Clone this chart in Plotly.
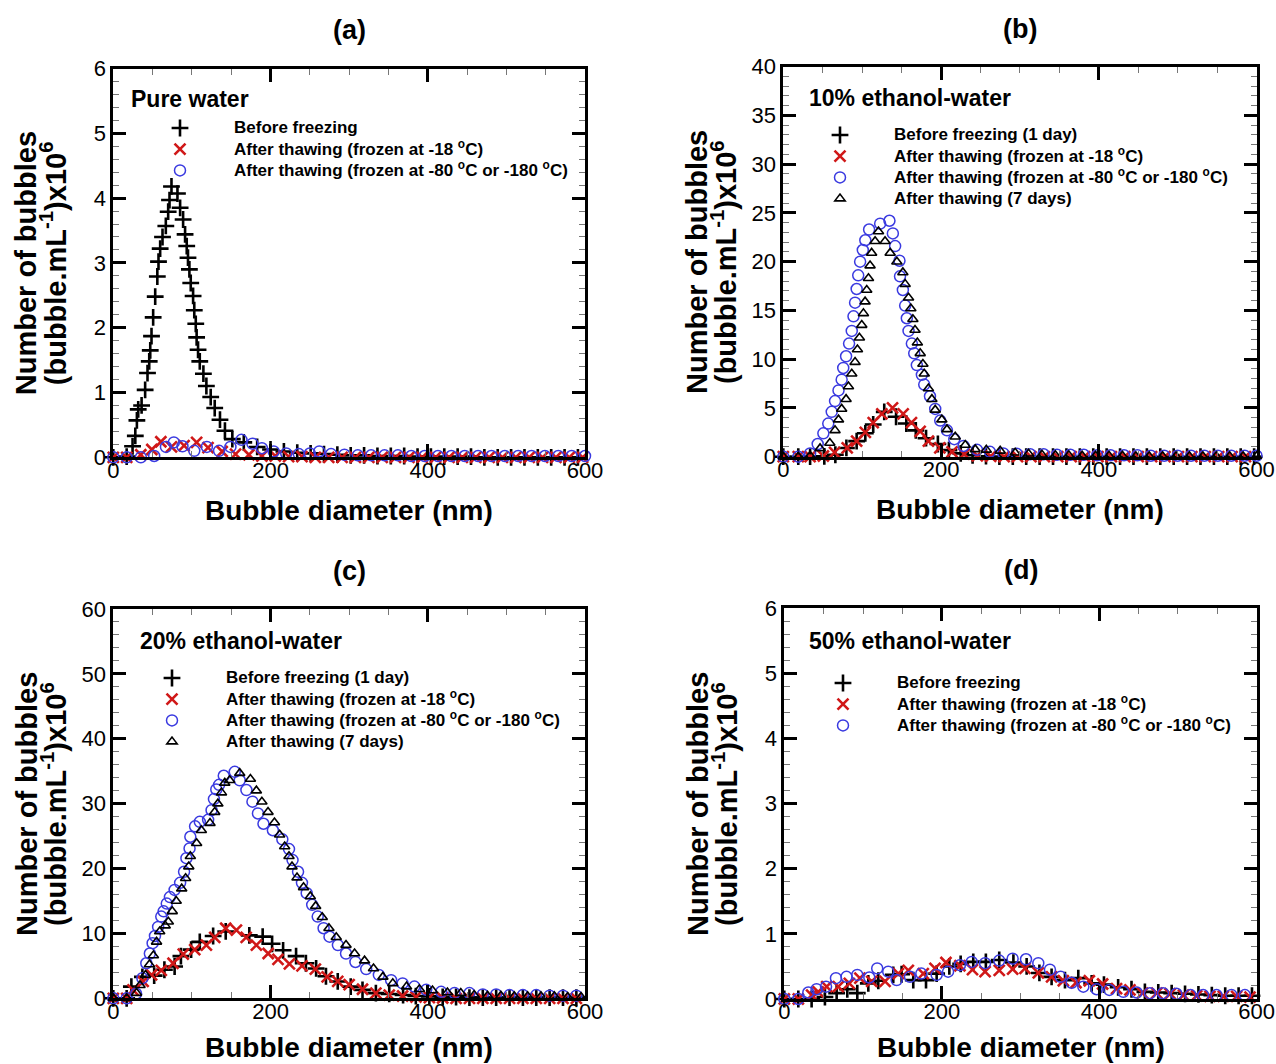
import plotly.graph_objects as go

W, H = 1276, 1064
FONT = "Liberation Sans, Arial, sans-serif"

# ---------------- data: bubble size distributions ----------------
# (a) pure water
a_before_x = [0, 17, 24.5, 28, 30, 31.7, 36, 40.5, 43.5, 45.7, 47, 48.6, 50.7, 53.3, 56, 57.5, 59.6, 62.6, 66.8,
              69.8, 71.5, 74, 81.6, 85, 88.8, 91.3, 93.4, 95, 96.8, 98.5, 101.5, 103, 104.9, 106, 107.8, 110,
              114.6, 118.4, 123.9, 129, 135.7, 142, 151.4, 166, 183, 200, 217, 234, 251, 268, 285, 302, 319,
              336, 353, 370, 387, 404, 421, 438, 455, 472, 489, 506, 523, 540, 557, 574, 591]
a_before_y = [0, 0.01, 0.17, 0.33, 0.57, 0.74, 0.80, 1.04, 1.30, 1.48, 1.65, 1.87, 2.16, 2.48, 2.79, 3.02, 3.22,
              3.40, 3.57, 3.79, 3.97, 4.18, 4.07, 3.85, 3.67, 3.44, 3.26, 3.08, 2.90, 2.69, 2.49, 2.27, 2.06,
              1.85, 1.66, 1.48, 1.29, 1.10, 0.93, 0.76, 0.58, 0.41, 0.28, 0.23, 0.16, 0.12, 0.09, 0.07, 0.06,
              0.05, 0.04, 0.03, 0.03, 0.02, 0.02, 0.02, 0.01, 0.01, 0.01, 0.01, 0.01, 0, 0, 0, 0, 0, 0, 0, 0]
a_m18_x = [0, 17, 35, 49, 60.5, 74, 90, 106, 120.5, 138.5, 155.5, 172.5, 189, 206, 223, 240, 257, 274, 291, 308,
           325, 342, 359, 376, 393, 410, 427, 444, 461, 478, 495, 512, 529, 546, 563, 580, 597]
a_m18_y = [0, 0, 0.04, 0.12, 0.24, 0.16, 0.18, 0.23, 0.15, 0.09, 0.05, 0.04, 0.02, 0.02, 0.01, 0.01, 0, 0, 0, 0,
           0, 0, 0, 0, 0, 0, 0, 0, 0, 0, 0, 0, 0, 0, 0, 0, 0]
a_m80_x = [0, 17, 35, 52, 67, 77, 88, 103, 119, 134.5, 149, 163, 177, 189, 204, 220, 236, 250, 262, 277, 294,
           311, 328, 345, 362, 379, 396, 413, 430, 447, 464, 481, 498, 515, 532, 549, 566, 583, 600]
a_m80_y = [0, 0, 0, 0.02, 0.16, 0.23, 0.17, 0.10, 0.16, 0.10, 0.16, 0.27, 0.21, 0.14, 0.09, 0.06, 0.05, 0.06,
           0.09, 0.05, 0.04, 0.03, 0.03, 0.03, 0.03, 0.02, 0.02, 0.02, 0.02, 0.02, 0.02, 0.02, 0.02, 0.02,
           0.02, 0.02, 0.02, 0.02, 0.02]

# (b) 10% ethanol-water
b_before_x = [0, 19, 34, 52, 66, 80, 93, 104, 114, 128, 143, 156, 168, 181, 196, 210, 225, 240, 257, 274, 291,
              308, 325, 342, 359, 376, 393, 410, 427, 444, 461, 478, 495, 512, 529, 546, 563, 580, 597]
b_before_y = [0, 0, 0, 0.03, 0.2, 0.9, 1.6, 2.4, 3.3, 4.6, 4.1, 3.4, 2.7, 1.9, 1.3, 0.67, 0.34, 0.15, 0.05,
              0.02, 0, 0, 0, 0, 0, 0, 0, 0, 0, 0, 0, 0, 0, 0, 0, 0, 0, 0, 0]
b_m18_x = [0, 19, 34, 50.8, 65, 81, 93, 104, 114, 125, 138.5, 152, 162.5, 173.5, 184, 198.5, 214, 229.5, 246,
           263, 280, 297, 314, 331, 348, 365, 382, 399, 416, 433, 450, 467, 484, 501, 518, 535, 552, 569, 586]
b_m18_y = [0, 0, 0, 0.07, 0.45, 0.9, 1.6, 2.5, 3.5, 4.4, 5.0, 4.4, 3.5, 2.6, 1.6, 0.9, 0.5, 0.27, 0.1, 0.05,
           0, 0, 0, 0, 0, 0, 0, 0, 0, 0, 0, 0, 0, 0, 0, 0, 0, 0, 0]
b_m80_x = [0, 19, 34, 43.6, 50.8, 57, 61.4, 65.6, 70, 74, 76, 79.6, 83.4, 86.8, 89, 91, 93, 95, 97.4, 100.8,
           104, 108.8, 122.8, 134.6, 138.9, 141.8, 147.3, 148, 151.6, 154.5, 156.6, 158.8, 163, 166, 169.3,
           175.7, 178.7, 186, 192.6, 199, 207.5, 216.8, 228.6, 245.6, 262, 279, 296, 313, 330, 347, 364, 381,
           398, 415, 432, 449, 466, 483, 500, 517, 534, 551, 568, 585, 600]
b_m80_y = [0, 0, 0.34, 1.3, 2.4, 3.4, 4.6, 5.7, 6.8, 7.9, 9.1, 10.3, 11.6, 12.9, 14.4, 15.8, 17.2, 18.6, 20.0,
           21.2, 22.2, 23.3, 23.9, 24.2, 22.9, 21.6, 20.1, 18.5, 17.1, 15.5, 14.2, 12.9, 11.6, 10.6, 9.4, 8.4,
           7.4, 6.2, 4.9, 3.7, 2.7, 1.8, 1.1, 0.7, 0.5, 0.34, 0.3, 0.25, 0.25, 0.2, 0.2, 0.2, 0.15, 0.15, 0.15,
           0.15, 0.1, 0.1, 0.1, 0.1, 0.1, 0.1, 0.1, 0.1, 0.1]
b_7d_x = [0, 19, 34, 46.6, 59, 65.6, 70, 74, 79.6, 82.6, 86.8, 91, 94, 96.5, 99.5, 101.6, 103.7, 105.8, 108,
          110, 112, 116.4, 120.7, 129, 135.5, 144, 151.6, 154.5, 158.8, 161.7, 164.3, 167, 170, 173.6, 177,
          178.7, 184, 188.4, 192.6, 201, 207.5, 218, 230.7, 243.4, 257.4, 275, 294, 311, 328, 345, 362, 379,
          396, 413, 430, 447, 464, 481, 498, 515, 532, 549, 566, 583, 600]
b_7d_y = [0, 0, 0.1, 0.85, 1.4, 2.7, 3.8, 4.9, 5.9, 7.2, 8.5, 9.7, 11.0, 12.2, 13.5, 14.7, 15.9, 17.1, 18.3,
          19.6, 20.9, 22.1, 23.1, 22.1, 20.9, 20.0, 18.9, 17.7, 16.3, 15.2, 14.1, 13.0, 11.7, 10.6, 9.5, 8.5,
          7.0, 5.9, 4.8, 3.8, 2.8, 2.05, 1.2, 0.75, 0.7, 0.6, 0.4, 0.3, 0.2, 0.15, 0.15, 0.1, 0.1, 0.1, 0.1,
          0.05, 0.05, 0.05, 0.05, 0.05, 0.05, 0.05, 0.05, 0.05, 0.05]

# (c) 20% ethanol-water
c_before_x = [0, 17, 23, 37, 52, 65, 78, 86, 99, 110, 127, 143, 173, 190, 202, 216, 232.5, 245, 258, 270.5,
              285.5, 302, 317, 334, 351, 368.6, 384.8, 402, 419, 436, 453, 470, 487, 504, 521, 538, 555, 572,
              589]
c_before_y = [0, 0, 1.8, 3.3, 3.5, 4.4, 4.9, 6.5, 7.5, 8.7, 9.6, 10.3, 9.7, 9.5, 8.4, 7.4, 6.5, 5.4, 4.6, 3.4,
              2.6, 1.8, 1.3, 0.8, 0.67, 0.5, 0.35, 0.3, 0.2, 0.2, 0.1, 0.1, 0.1, 0.1, 0.1, 0.1, 0.1, 0.1, 0.1]
c_m18_x = [0, 17, 25, 38, 48.7, 61, 76, 89, 103.6, 118.4, 129, 143, 156.6, 169, 182, 197, 209.5, 224, 240,
           257, 272, 285.5, 300, 317, 334, 351, 368, 385, 402, 419, 436, 453, 470, 487, 504, 521, 538, 555, 572,
           589]
c_m18_y = [0, 0, 1.3, 2.6, 3.6, 4.3, 5.4, 6.8, 7.5, 8.2, 9.4, 10.8, 10.5, 9.4, 8.2, 6.9, 6.0, 5.3, 5.0, 4.5,
           3.3, 2.6, 2.1, 1.4, 0.8, 0.5, 0.36, 0.2, 0.1, 0.05, 0, 0, 0, 0, 0, 0, 0, 0, 0, 0]
c_m80_x = [0, 17, 29, 37, 42, 46.5, 50, 53, 57, 61, 64, 68, 72, 78, 85, 90, 93, 97, 98, 104, 110, 120.6, 125,
           128, 131, 134.6, 140.5, 154.5, 160.8, 169.3, 177, 184, 191, 203, 215, 223.5, 228, 235, 240, 246,
           253, 260, 267.5, 275, 285.7, 296, 308, 321.7, 337.8, 353.4, 368, 383, 398, 417, 434, 453, 470, 487,
           504, 521, 538, 555, 572, 589]
c_m80_y = [0, 0, 0.7, 3.1, 5.4, 6.9, 8.5, 9.6, 11.0, 12.6, 13.4, 14.6, 15.6, 16.7, 17.8, 19.5, 21.6, 23.1,
           24.9, 26.5, 27.2, 27.5, 29.0, 30.7, 32.2, 32.9, 34.3, 34.9, 33.6, 32.1, 30.3, 28.5, 26.9, 25.9, 24.5,
           23.0, 21.3, 19.5, 17.8, 16.2, 14.4, 12.6, 10.8, 9.5, 8.2, 6.9, 5.6, 4.5, 3.6, 2.8, 2.3, 1.8, 1.3,
           1.0, 0.8, 0.8, 0.6, 0.6, 0.5, 0.5, 0.5, 0.4, 0.4, 0.4]
c_7d_x = [0, 17, 29.6, 34, 41, 46, 51, 55, 59, 66, 70, 75, 80, 87, 92, 96, 98, 106, 112, 123, 129, 133, 137.6,
          141.8, 148, 160.8, 174.4, 182, 189, 196.8, 205, 211.6, 218, 223.5, 227.3, 233.7, 242, 250.6, 257.4,
          265.8, 274.3, 283.6, 296, 306.9, 319.6, 331, 342.9, 355.5, 373, 389.4, 406, 425, 442, 459, 476, 493,
          510, 527, 544, 561, 578, 595]
c_7d_y = [0, 0, 0.8, 2.0, 3.6, 5.2, 6.6, 8.7, 10.3, 11.2, 11.8, 13.4, 15.0, 16.9, 18.5, 20.3, 21.9, 23.9, 25.9,
          27.0, 28.7, 30.0, 31.7, 33.2, 33.6, 34.7, 33.8, 32.0, 30.3, 28.7, 27.1, 25.2, 23.4, 21.9, 20.3, 18.6,
          17.1, 15.7, 14.2, 12.5, 10.8, 9.4, 8.2, 6.9, 5.8, 4.6, 3.3, 2.3, 1.8, 1.4, 1.2, 0.9, 0.8, 0.5, 0.4,
          0.4, 0.3, 0.3, 0.3, 0.3, 0.2, 0.2]

# (d) 50% ethanol-water
d_before_x = [0, 17.8, 34.7, 51.6, 66.5, 80, 92.7, 106.7, 119.4, 138.4, 149, 163.8, 180, 193.5, 209.6, 224,
              240, 256, 273, 291, 307.8, 324, 339.5, 356.5, 373.4, 390.4, 406, 424, 441, 458, 475, 492, 509,
              526, 543, 560, 577, 594]
d_before_y = [0, 0, 0, 0.03, 0.09, 0.15, 0.09, 0.24, 0.28, 0.37, 0.38, 0.29, 0.29, 0.39, 0.50, 0.54, 0.57,
              0.57, 0.60, 0.56, 0.50, 0.40, 0.34, 0.29, 0.32, 0.24, 0.22, 0.18, 0.15, 0.11, 0.10, 0.09, 0.08,
              0.07, 0.06, 0.05, 0.05, 0.05]
d_m18_x = [0, 17.8, 34.7, 43, 53.8, 68.6, 82.6, 96, 111, 128, 144.8, 157.5, 176.5, 191.4, 205.3, 223, 239, 255,
           273, 290, 305.7, 322.6, 339.5, 354.4, 370.5, 387.4, 404.3, 422, 439, 455, 473, 490, 507, 523.7,
           540.6, 557.6, 574.5, 591.5]
d_m18_y = [0, 0, 0.06, 0.11, 0.19, 0.19, 0.24, 0.32, 0.27, 0.27, 0.39, 0.44, 0.39, 0.47, 0.56, 0.51, 0.45,
           0.42, 0.44, 0.46, 0.47, 0.40, 0.34, 0.28, 0.25, 0.28, 0.23, 0.16, 0.14, 0.09, 0.09, 0.08, 0.06, 0.05,
           0.04, 0.04, 0.04, 0.03]
d_m80_x = [0, 17.8, 30.5, 41, 53, 65.6, 79, 92.7, 108, 118, 132, 142.7, 159.6, 174, 193.5, 208, 223, 238, 255,
           273, 290, 307, 322.6, 337.4, 351, 365, 379.8, 396.7, 412.8, 430.6, 447.5, 464.4, 481, 498, 516, 532,
           549, 568, 585]
d_m80_y = [0, 0, 0.10, 0.15, 0.19, 0.32, 0.34, 0.37, 0.33, 0.47, 0.42, 0.29, 0.34, 0.39, 0.37, 0.42, 0.52,
           0.57, 0.55, 0.59, 0.62, 0.61, 0.55, 0.45, 0.34, 0.25, 0.19, 0.15, 0.14, 0.11, 0.10, 0.09, 0.09, 0.08,
           0.06, 0.06, 0.06, 0.06, 0.06]

# ---------------- labels ----------------
LBL_BEFORE = "Before freezing"
LBL_BEFORE_1D = "Before freezing (1 day)"
LBL_M18 = "After thawing (frozen at -18 <sup>o</sup>C)"
LBL_M80 = "After thawing (frozen at -80 <sup>o</sup>C or -180 <sup>o</sup>C)"
LBL_7D = "After thawing (7 days)"
X_TITLE = "Bubble diameter (nm)"
Y_TITLE_1 = "Number of bubbles"
Y_TITLE_2 = "(bubble.mL<sup>-1</sup>)x10<sup>6</sup>"

RED = "#d01818"
BLUE = "#3a3ae0"

STYLE = {
    "before": dict(symbol="cross-thin", size=12, color="black", line=dict(width=2.6, color="black")),
    "m18": dict(symbol="x-thin", size=11, color=RED, line=dict(width=2.6, color=RED)),
    "m80": dict(symbol="circle-open", size=11, color=BLUE, line=dict(width=1.5, color=BLUE)),
    "d7": dict(symbol="triangle-up-open", size=9, color="black", line=dict(width=1.6, color="black")),
}


def px(x):
    return x / W


def py(y):
    return 1 - y / H


def leg_name(t):
    return '<span style="font-size:17px">' + t + '</span>'


fig = go.Figure()

panels = [
    # axis suffix, legend id, series list
    ("", "legend", [(a_before_x, a_before_y, LBL_BEFORE, "before"),
                    (a_m18_x, a_m18_y, LBL_M18, "m18"),
                    (a_m80_x, a_m80_y, LBL_M80, "m80")]),
    ("2", "legend2", [(b_before_x, b_before_y, LBL_BEFORE_1D, "before"),
                      (b_m18_x, b_m18_y, LBL_M18, "m18"),
                      (b_m80_x, b_m80_y, LBL_M80, "m80"),
                      (b_7d_x, b_7d_y, LBL_7D, "d7")]),
    ("3", "legend3", [(c_before_x, c_before_y, LBL_BEFORE_1D, "before"),
                      (c_m18_x, c_m18_y, LBL_M18, "m18"),
                      (c_m80_x, c_m80_y, LBL_M80, "m80"),
                      (c_7d_x, c_7d_y, LBL_7D, "d7")]),
    ("4", "legend4", [(d_before_x, d_before_y, LBL_BEFORE, "before"),
                      (d_m18_x, d_m18_y, LBL_M18, "m18"),
                      (d_m80_x, d_m80_y, LBL_M80, "m80")]),
]

for suf, leg, series in panels:
    for xs, ys, name, key in series:
        fig.add_trace(go.Scatter(
            x=xs, y=ys, mode="markers", name=leg_name(name), marker=STYLE[key],
            xaxis="x" + suf, yaxis="y" + suf, legend=leg, cliponaxis=False,
        ))

# plot-area boxes in pixels: left, right, top, bottom
boxes = {
    "": (113.3, 585.0, 68.5, 457.3),
    "2": (783.3, 1256.5, 66.7, 456.7),
    "3": (113.3, 585.0, 609.0, 998.3),
    "4": (784.3, 1256.7, 608.3, 999.0),
}
yranges = {"": (6, 1, 0.2), "2": (40, 5, 1), "3": (60, 10, 2), "4": (6, 1, 0.2)}

tickfont = dict(family=FONT, size=22, color="black")
common = dict(
    showline=True, linewidth=3, linecolor="black", mirror="allticks",
    ticks="inside", ticklen=13, tickwidth=3, tickcolor="black",
    showgrid=False, zeroline=False, tickfont=tickfont, tick0=0, automargin=False,
)

layout = dict(
    width=W, height=H, margin=dict(l=0, r=0, t=0, b=0, pad=0, autoexpand=False),
    paper_bgcolor="white", plot_bgcolor="white", showlegend=True,
)
for suf, (l, r, t, b) in boxes.items():
    ymax, ydt, ymin_dt = yranges[suf]
    layout["xaxis" + suf] = dict(
        domain=[px(l), px(r)], anchor="y" + suf, range=[0, 600], dtick=200, ticklabelstandoff=-9,
        minor=dict(ticks="inside", dtick=50, ticklen=6, tickwidth=1, tickcolor="#777777", showgrid=False),
        **common)
    layout["yaxis" + suf] = dict(
        domain=[py(b), py(t)], anchor="x" + suf, range=[0, ymax], dtick=ydt,
        minor=dict(ticks="inside", dtick=ymin_dt, ticklen=6, tickwidth=1, tickcolor="#777777", showgrid=False),
        **common)

# legends: (symbol centre x, first row centre y)
leg_pos = {"legend": (180, 128), "legend2": (840, 135), "legend3": (172, 678), "legend4": (843, 683)}
ITEMW = 98
for leg, (sx, ry) in leg_pos.items():
    left = sx - (ITEMW + 10) / 2
    top = ry - 15.6
    layout[leg] = dict(
        x=px(left), y=py(top), xanchor="left", yanchor="top", itemwidth=ITEMW,
        font=dict(family=FONT, size=14, color="black", weight="bold"), bgcolor="rgba(0,0,0,0)",
        borderwidth=0, traceorder="normal",
    )

ann = []


def text(x, y, s, size, xanchor="center", angle=0):
    ann.append(dict(x=px(x), y=py(y), xref="paper", yref="paper", text=s, showarrow=False,
                    xanchor=xanchor, yanchor="middle", textangle=angle,
                    font=dict(family=FONT, size=size, color="black", weight="bold")))


titles = {"": "(a)", "2": "(b)", "3": "(c)", "4": "(d)"}
inner = {"": ("Pure water", 129, 99), "2": ("10% ethanol-water", 807, 98),
         "3": ("20% ethanol-water", 138, 641), "4": ("50% ethanol-water", 807, 641)}
for suf, (l, r, t, b) in boxes.items():
    cx = (l + r) / 2
    cy = (t + b) / 2
    text(cx, t - 38, titles[suf], 27)
    # keep the lower row's axis titles inside the page
    text(cx, min(b + 53, H - 17), X_TITLE, 28)
    text(l - 87, cy, Y_TITLE_1, 29, angle=-90)
    text(l - 60, cy, Y_TITLE_2, 29, angle=-90)
    s, ix, iy = inner[suf]
    text(ix, iy, s, 23, xanchor="left")

layout["annotations"] = ann
fig.update_layout(**layout)
fig.write_html("out.html")
